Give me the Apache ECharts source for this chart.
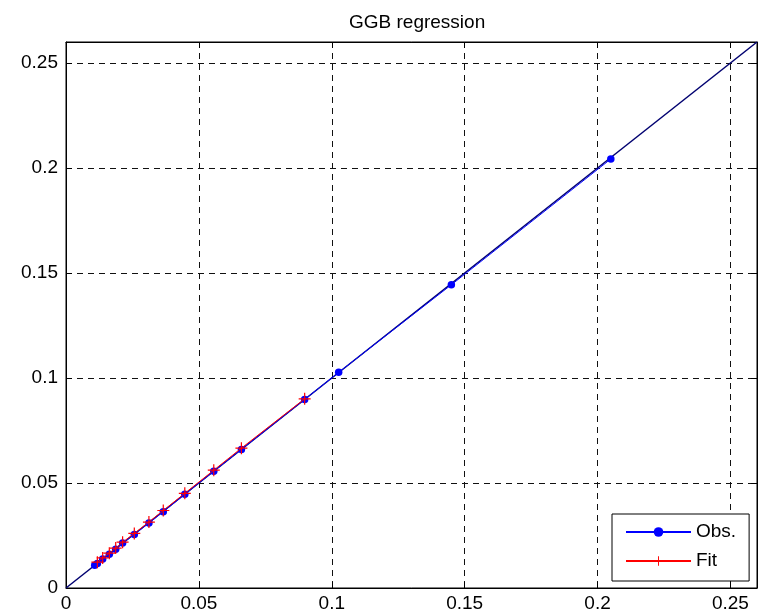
<!DOCTYPE html>
<html>
<head>
<meta charset="utf-8">
<script src="https://cdn.jsdelivr.net/npm/echarts@6/dist/echarts.min.js"></script>
<style>
html,body{margin:0;padding:0;background:#fff;}
#chart{width:759px;height:616px;}
</style>
</head>
<body>
<div id="chart"></div>
<script>
// ---- data ----
var titleText = 'GGB regression';
var seriesNames = ['Obs.', 'Fit'];
var obsX = [0.0108, 0.0118, 0.0138, 0.0163, 0.0187, 0.0213, 0.0257, 0.0312, 0.0366, 0.0447, 0.0556, 0.0660, 0.0898, 0.1026, 0.1450, 0.2050];
var obsY = [0.0108, 0.0117, 0.0138, 0.0161, 0.0184, 0.0214, 0.0255, 0.0309, 0.0363, 0.0446, 0.0556, 0.0660, 0.0898, 0.1027, 0.1444, 0.2043];
var fitX = [0.0118, 0.0138, 0.0163, 0.0187, 0.0213, 0.0257, 0.0312, 0.0366, 0.0447, 0.0556, 0.0660, 0.0898];
var fitY = [0.0123, 0.0143, 0.0166, 0.0190, 0.0218, 0.0260, 0.0314, 0.0369, 0.0451, 0.0561, 0.0666, 0.0901];
var diagX = [0, 0.26];
var diagY = [0, 0.26];
var axisMin = 0, axisMax = 0.26, tickStep = 0.05;

function pairs(xs, ys) { return xs.map(function (x, i) { return [x, ys[i]]; }); }

var font = 'Liberation Sans, Arial, Helvetica, sans-serif';
var plus = 'path://M4.5,0h1v4.5h4.5v1h-4.5v4.5h-1v-4.5h-4.5v-1h4.5z';

function labelFmt(v) {
  var k = Math.round(v / tickStep);
  if (Math.abs(v - k * tickStep) > 1e-9) return '';
  return String(+(k * tickStep).toFixed(2));
}

var mainAxis = {
  type: 'value', min: axisMin, max: axisMax, interval: tickStep,
  axisLine: { show: true, lineStyle: { color: '#000', width: 1 } },
  axisTick: { show: true, inside: true, length: 6, lineStyle: { color: '#000' } },
  splitLine: { show: true, lineStyle: { color: '#111', type: [6, 5], width: 1 } },
  axisLabel: { color: '#000', fontFamily: font, fontSize: 19, formatter: labelFmt, showMaxLabel: false }
};
function twin(pos) {
  return {
    type: 'value', min: axisMin, max: axisMax, interval: tickStep, position: pos,
    axisLine: { show: true, onZero: false, lineStyle: { color: '#000', width: 1 } },
    axisTick: { show: true, inside: true, length: 6, lineStyle: { color: '#000' } },
    splitLine: { show: false },
    axisLabel: { show: false }
  };
}

var chart = echarts.init(document.getElementById('chart'), null, { renderer: 'canvas' });
chart.setOption({
  animation: false,
  backgroundColor: '#fff',
  title: {
    text: titleText, left: 344, top: 8,
    textStyle: { fontFamily: font, fontSize: 19, fontWeight: 'normal', color: '#000' }
  },
  grid: { left: 66, top: 42, right: 2, bottom: 28, show: true, borderColor: '#000', borderWidth: 1, containLabel: false },
  xAxis: [
    Object.assign({}, mainAxis, { position: 'bottom', axisLabel: Object.assign({}, mainAxis.axisLabel, { margin: 6 }) }),
    twin('top')
  ],
  yAxis: [
    Object.assign({}, mainAxis, { position: 'left', axisLabel: Object.assign({}, mainAxis.axisLabel, { margin: 8 }) }),
    twin('right')
  ],
  legend: {
    orient: 'vertical', left: 612, top: 514,
    data: seriesNames,
    backgroundColor: '#fff', borderColor: '#000', borderWidth: 1,
    padding: [8, 13, 10, 13],
    itemWidth: 65, itemHeight: 12, itemGap: 9,
    textStyle: { fontFamily: font, fontSize: 19, color: '#000', lineHeight: 20 }
  },
  series: [
    {
      name: 'diag', type: 'line', data: pairs(diagX, diagY), symbol: 'none',
      lineStyle: { color: '#000070', width: 1.5 }, silent: true, z: 1
    },
    {
      name: seriesNames[0], type: 'line', data: pairs(obsX, obsY),
      symbol: 'circle', symbolSize: 7.5,
      itemStyle: { color: '#0000ff' },
      lineStyle: { color: '#0000ff', width: 1 }, z: 2
    },
    {
      name: seriesNames[1], type: 'line', data: pairs(fitX, fitY),
      symbol: plus, symbolSize: 12,
      itemStyle: { color: '#ff0000' },
      lineStyle: { color: '#ff0000', width: 1 }, z: 3
    }
  ]
});
</script>
</body>
</html>
